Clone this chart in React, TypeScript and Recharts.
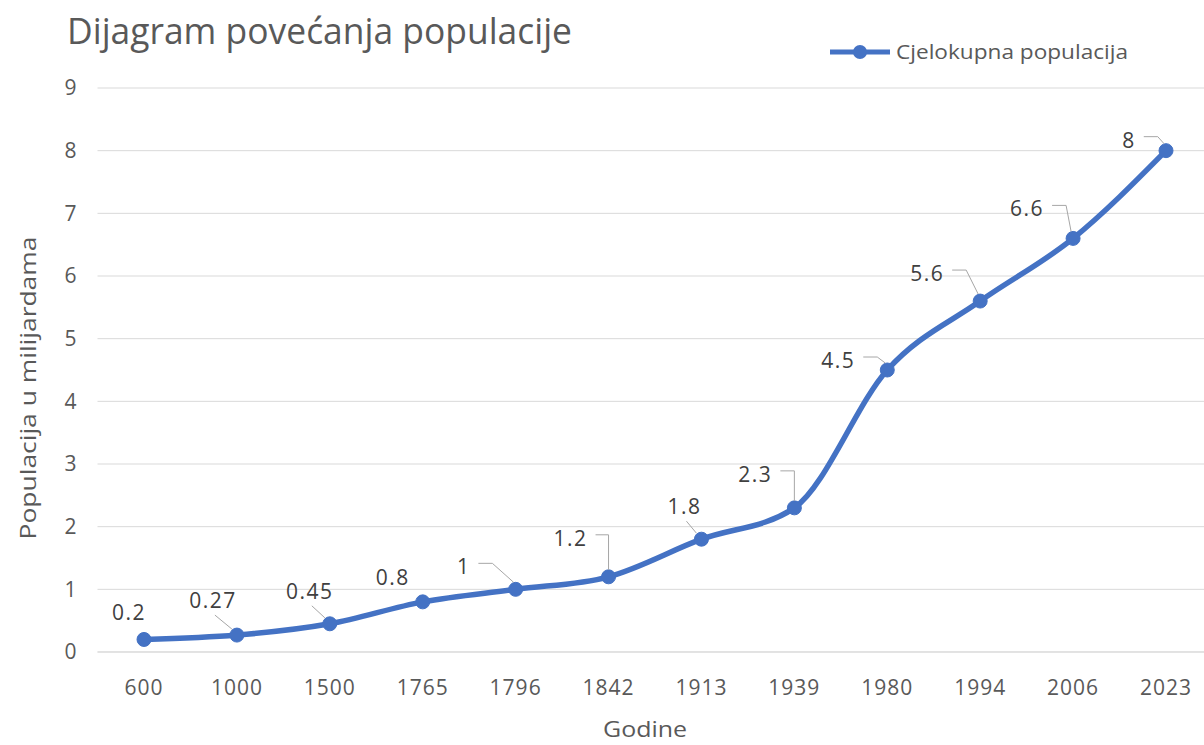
import React from 'react'
import { LineChart, Line, XAxis, YAxis, CartesianGrid, LabelList } from 'recharts'

const years = ['600', '1000', '1500', '1765', '1796', '1842', '1913', '1939', '1980', '1994', '2006', '2023']
const population = [0.2, 0.27, 0.45, 0.8, 1, 1.2, 1.8, 2.3, 4.5, 5.6, 6.6, 8]
const yTicks = [0, 1, 2, 3, 4, 5, 6, 7, 8, 9]

// where Excel placed each data label, relative to its point
const labelLayout = [
  { dx: -15, dy: -27, leader: 'none' },
  { dx: -24, dy: -35, leader: 'diag' },
  { dx: -20, dy: -33, leader: 'diag' },
  { dx: -30, dy: -25, leader: 'none' },
  { dx: -52, dy: -23, leader: 'elbow' },
  { dx: -38, dy: -39, leader: 'elbow' },
  { dx: -17, dy: -33, leader: 'diag' },
  { dx: -39, dy: -34, leader: 'elbow' },
  { dx: -49, dy: -10, leader: 'elbow' },
  { dx: -53, dy: -28, leader: 'elbow' },
  { dx: -46, dy: -30, leader: 'elbow' },
  { dx: -37, dy: -11, leader: 'elbow' },
]

const data = years.map((year, i) => ({ year, value: population[i] }))

const FONT = '"Open Sans", "Noto Sans", sans-serif'
const BLUE = '#4472C4'
const AXIS_TEXT = '#595959'

const textWidth = (s: string) =>
  s.split('').reduce((w, c) => w + (c === '.' ? 7 : 13.5), 0)

function DataLabel(props: any) {
  const { x, y, value, index } = props
  const pos = labelLayout[index]
  if (!pos || x == null || y == null) return null
  const cx = x + pos.dx
  const cy = y + pos.dy
  const text = String(value)
  const w = textWidth(text)
  let leader: React.ReactNode = null
  if (pos.leader === 'elbow') {
    const sx = cx + w / 2 + 8
    const ly = cy - 3
    const ex = Math.min(sx + 14, x)
    const tx = x - ex > 2 ? x - 2 : x
    leader = (
      <polyline
        points={`${sx},${ly} ${ex},${ly} ${tx},${y - 7}`}
        fill="none"
        stroke="#a6a6a6"
        strokeWidth={1}
      />
    )
  } else if (pos.leader === 'diag') {
    leader = (
      <line x1={cx + 2} y1={cy + 15} x2={x - 5} y2={y - 6} stroke="#a6a6a6" strokeWidth={1} />
    )
  }
  return (
    <g>
      {leader}
      <text
        x={cx}
        y={cy}
        textAnchor="middle"
        dominantBaseline="central"
        fill="#404040"
        fontSize={21}
        letterSpacing={1.5}
        fontFamily={FONT}
      >
        {text}
      </text>
    </g>
  )
}

export default function App() {
  return (
    <div
      style={{
        position: 'fixed',
        left: 0,
        top: 0,
        width: 1204,
        height: 745,
        overflow: 'hidden',
        background: '#fff',
        fontFamily: FONT,
      }}
    >
      <LineChart
        width={1220}
        height={745}
        data={data}
        margin={{ top: 88, right: 7.5, bottom: 33, left: 0 }}
      >
        <CartesianGrid vertical={false} stroke="#d9d9d9" strokeWidth={1} />
        <XAxis
          dataKey="year"
          padding={{ left: 46.5, right: 46.5 }}
          axisLine={{ stroke: '#d9d9d9', strokeWidth: 1 }}
          tickLine={false}
          tickSize={0}
          tickMargin={28}
          height={60}
          interval={0}
          tick={{ fill: AXIS_TEXT, fontSize: 21, fontFamily: FONT, letterSpacing: 1 }}
        />
        <YAxis
          width={97.5}
          domain={[0, 9]}
          ticks={yTicks}
          axisLine={false}
          tickLine={false}
          tickSize={0}
          tickMargin={21}
          tick={{ fill: AXIS_TEXT, fontSize: 21, fontFamily: FONT }}
        />
        <Line
          type="monotone"
          dataKey="value"
          stroke={BLUE}
          strokeWidth={5.5}
          dot={{ r: 7, fill: BLUE, stroke: BLUE, strokeWidth: 1 }}
          activeDot={false}
          isAnimationActive={false}
        >
          <LabelList dataKey="value" content={<DataLabel />} />
        </Line>
      </LineChart>

      <svg style={{ position: 'absolute', left: 0, top: 0 }} width={1204} height={745} pointerEvents="none">
        <text
          x={67}
          y={44}
          fontSize={36}
          textLength={505}
          lengthAdjust="spacingAndGlyphs"
          fill={AXIS_TEXT}
          fontFamily={FONT}
        >
          Dijagram povećanja populacije
        </text>
        <line x1={830} y1={52} x2={890} y2={52} stroke={BLUE} strokeWidth={5} />
        <circle cx={860} cy={52} r={7} fill={BLUE} />
        <text
          x={896}
          y={59}
          fontSize={20}
          textLength={232}
          lengthAdjust="spacingAndGlyphs"
          fill={AXIS_TEXT}
          fontFamily={FONT}
        >
          Cjelokupna populacija
        </text>
        <text
          x={645}
          y={737}
          textAnchor="middle"
          fontSize={22}
          textLength={84}
          lengthAdjust="spacingAndGlyphs"
          fill={AXIS_TEXT}
          fontFamily={FONT}
        >
          Godine
        </text>
        <text
          x={27}
          y={388}
          transform="rotate(-90 27 388)"
          textAnchor="middle"
          dominantBaseline="central"
          fontSize={22}
          textLength={303}
          lengthAdjust="spacingAndGlyphs"
          fill={AXIS_TEXT}
          fontFamily={FONT}
        >
          Populacija u milijardama
        </text>
      </svg>
    </div>
  )
}
